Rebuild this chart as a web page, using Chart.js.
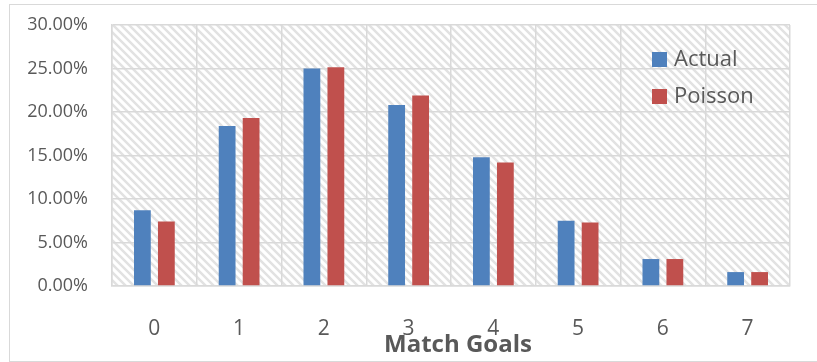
<!DOCTYPE html>
<html>
<head>
<meta charset="utf-8">
<script src="https://cdn.jsdelivr.net/npm/chart.js@4.4.0/dist/chart.umd.min.js"></script>
<style>
    body { margin: 0; background: #fff; }
    #wrap { position: relative; width: 817px; height: 362px; overflow: hidden; }
    #frame { position: absolute; left: 9px; top: 4px; width: 900px; height: 356px; border: 1.5px solid #d9d9d9; }
    canvas { position: absolute; left: 0; top: 0; }
</style>
</head>
<body>
<div id="wrap">
    <div id="frame"></div>
    <canvas id="chart" width="817" height="362"></canvas>
</div>
<script>
// goals per match, share of matches (%)
const categories = ['0', '1', '2', '3', '4', '5', '6', '7'];
const actual = [8.7, 18.4, 25.0, 20.8, 14.8, 7.5, 3.1, 1.6];
const poisson = [7.4, 19.3, 25.15, 21.9, 14.2, 7.3, 3.1, 1.6];
const yTicks = [0, 5, 10, 15, 20, 25, 30];

const textColor = '#595959';
const gridColor = '#d9d9d9';

// diagonal hatch for the plot area
function makeHatch() {
    const c = document.createElement('canvas');
    c.width = 8; c.height = 8;
    const g = c.getContext('2d');
    g.fillStyle = '#fff';
    g.fillRect(0, 0, 8, 8);
    g.strokeStyle = '#e2e2e2';
    g.lineWidth = 2.5;
    g.beginPath();
    g.moveTo(-2, -2); g.lineTo(10, 10);
    g.moveTo(-10, -2); g.lineTo(2, 10);
    g.moveTo(6, -2); g.lineTo(18, 10);
    g.stroke();
    return c;
}

const hatchPlugin = {
    id: 'hatch',
    beforeDraw(chart) {
        const a = chart.chartArea;
        const ctx = chart.ctx;
        ctx.save();
        ctx.fillStyle = ctx.createPattern(makeHatch(), 'repeat');
        ctx.fillRect(a.left, a.top, a.right - a.left, a.bottom - a.top);
        ctx.restore();
    }
};

// legend inside the plot + axis title overlapping the ticks, like the Excel original
const extrasPlugin = {
    id: 'extras',
    afterDraw(chart) {
        const a = chart.chartArea;
        const ctx = chart.ctx;
        ctx.save();
        ctx.font = '22px "Open Sans"';
        ctx.textBaseline = 'middle';
        chart.data.datasets.forEach((ds, i) => {
            const y = a.top + 27 + i * 37;
            ctx.fillStyle = ds.backgroundColor;
            ctx.fillRect(a.right - 138, y, 15, 15);
            ctx.fillStyle = textColor;
            ctx.fillText(ds.label, a.right - 116, y + 8);
        });
        ctx.font = 'bold 24px "Open Sans"';
        ctx.textAlign = 'center';
        ctx.textBaseline = 'alphabetic';
        ctx.fillStyle = textColor;
        ctx.fillText('Match Goals', (a.left + a.right) / 2 + 7, 352);
        ctx.restore();
    }
};

new Chart(document.getElementById('chart'), {
    type: 'bar',
    data: {
        labels: categories,
        datasets: [
            { label: 'Actual', data: actual, backgroundColor: '#4f81bd' },
            { label: 'Poisson', data: poisson, backgroundColor: '#c0504d' }
        ]
    },
    options: {
        responsive: false,
        animation: false,
        categoryPercentage: 0.566,
        barPercentage: 0.7,
        layout: { padding: { top: 25, right: 27, left: 0, bottom: 0 } },
        plugins: {
            legend: { display: false },
            tooltip: { enabled: false }
        },
        scales: {
            x: {
                afterFit(scale) { scale.height = 76; },
                grid: { color: gridColor, lineWidth: 1.5, offset: true, drawTicks: false },
                border: { color: gridColor, width: 1.5 },
                ticks: { color: textColor, font: { family: 'Open Sans', size: 21 }, padding: 30 }
            },
            y: {
                min: 0,
                max: 30,
                afterFit(scale) { scale.width = 112; },
                afterBuildTicks(scale) { scale.ticks = yTicks.map(v => ({ value: v })); },
                // invisible tick marks push the labels away from the axis
                // (tick padding would also shrink the plot from the top)
                grid: { color: gridColor, lineWidth: 1.5, tickLength: 22, tickColor: 'rgba(0,0,0,0)' },
                border: { color: gridColor, width: 1.5 },
                ticks: {
                    color: textColor,
                    font: { family: 'Open Sans', size: 18 },
                    padding: 2,
                    callback: v => v.toFixed(2) + '%'
                }
            }
        }
    },
    plugins: [hatchPlugin, extrasPlugin]
});
</script>
</body>
</html>
